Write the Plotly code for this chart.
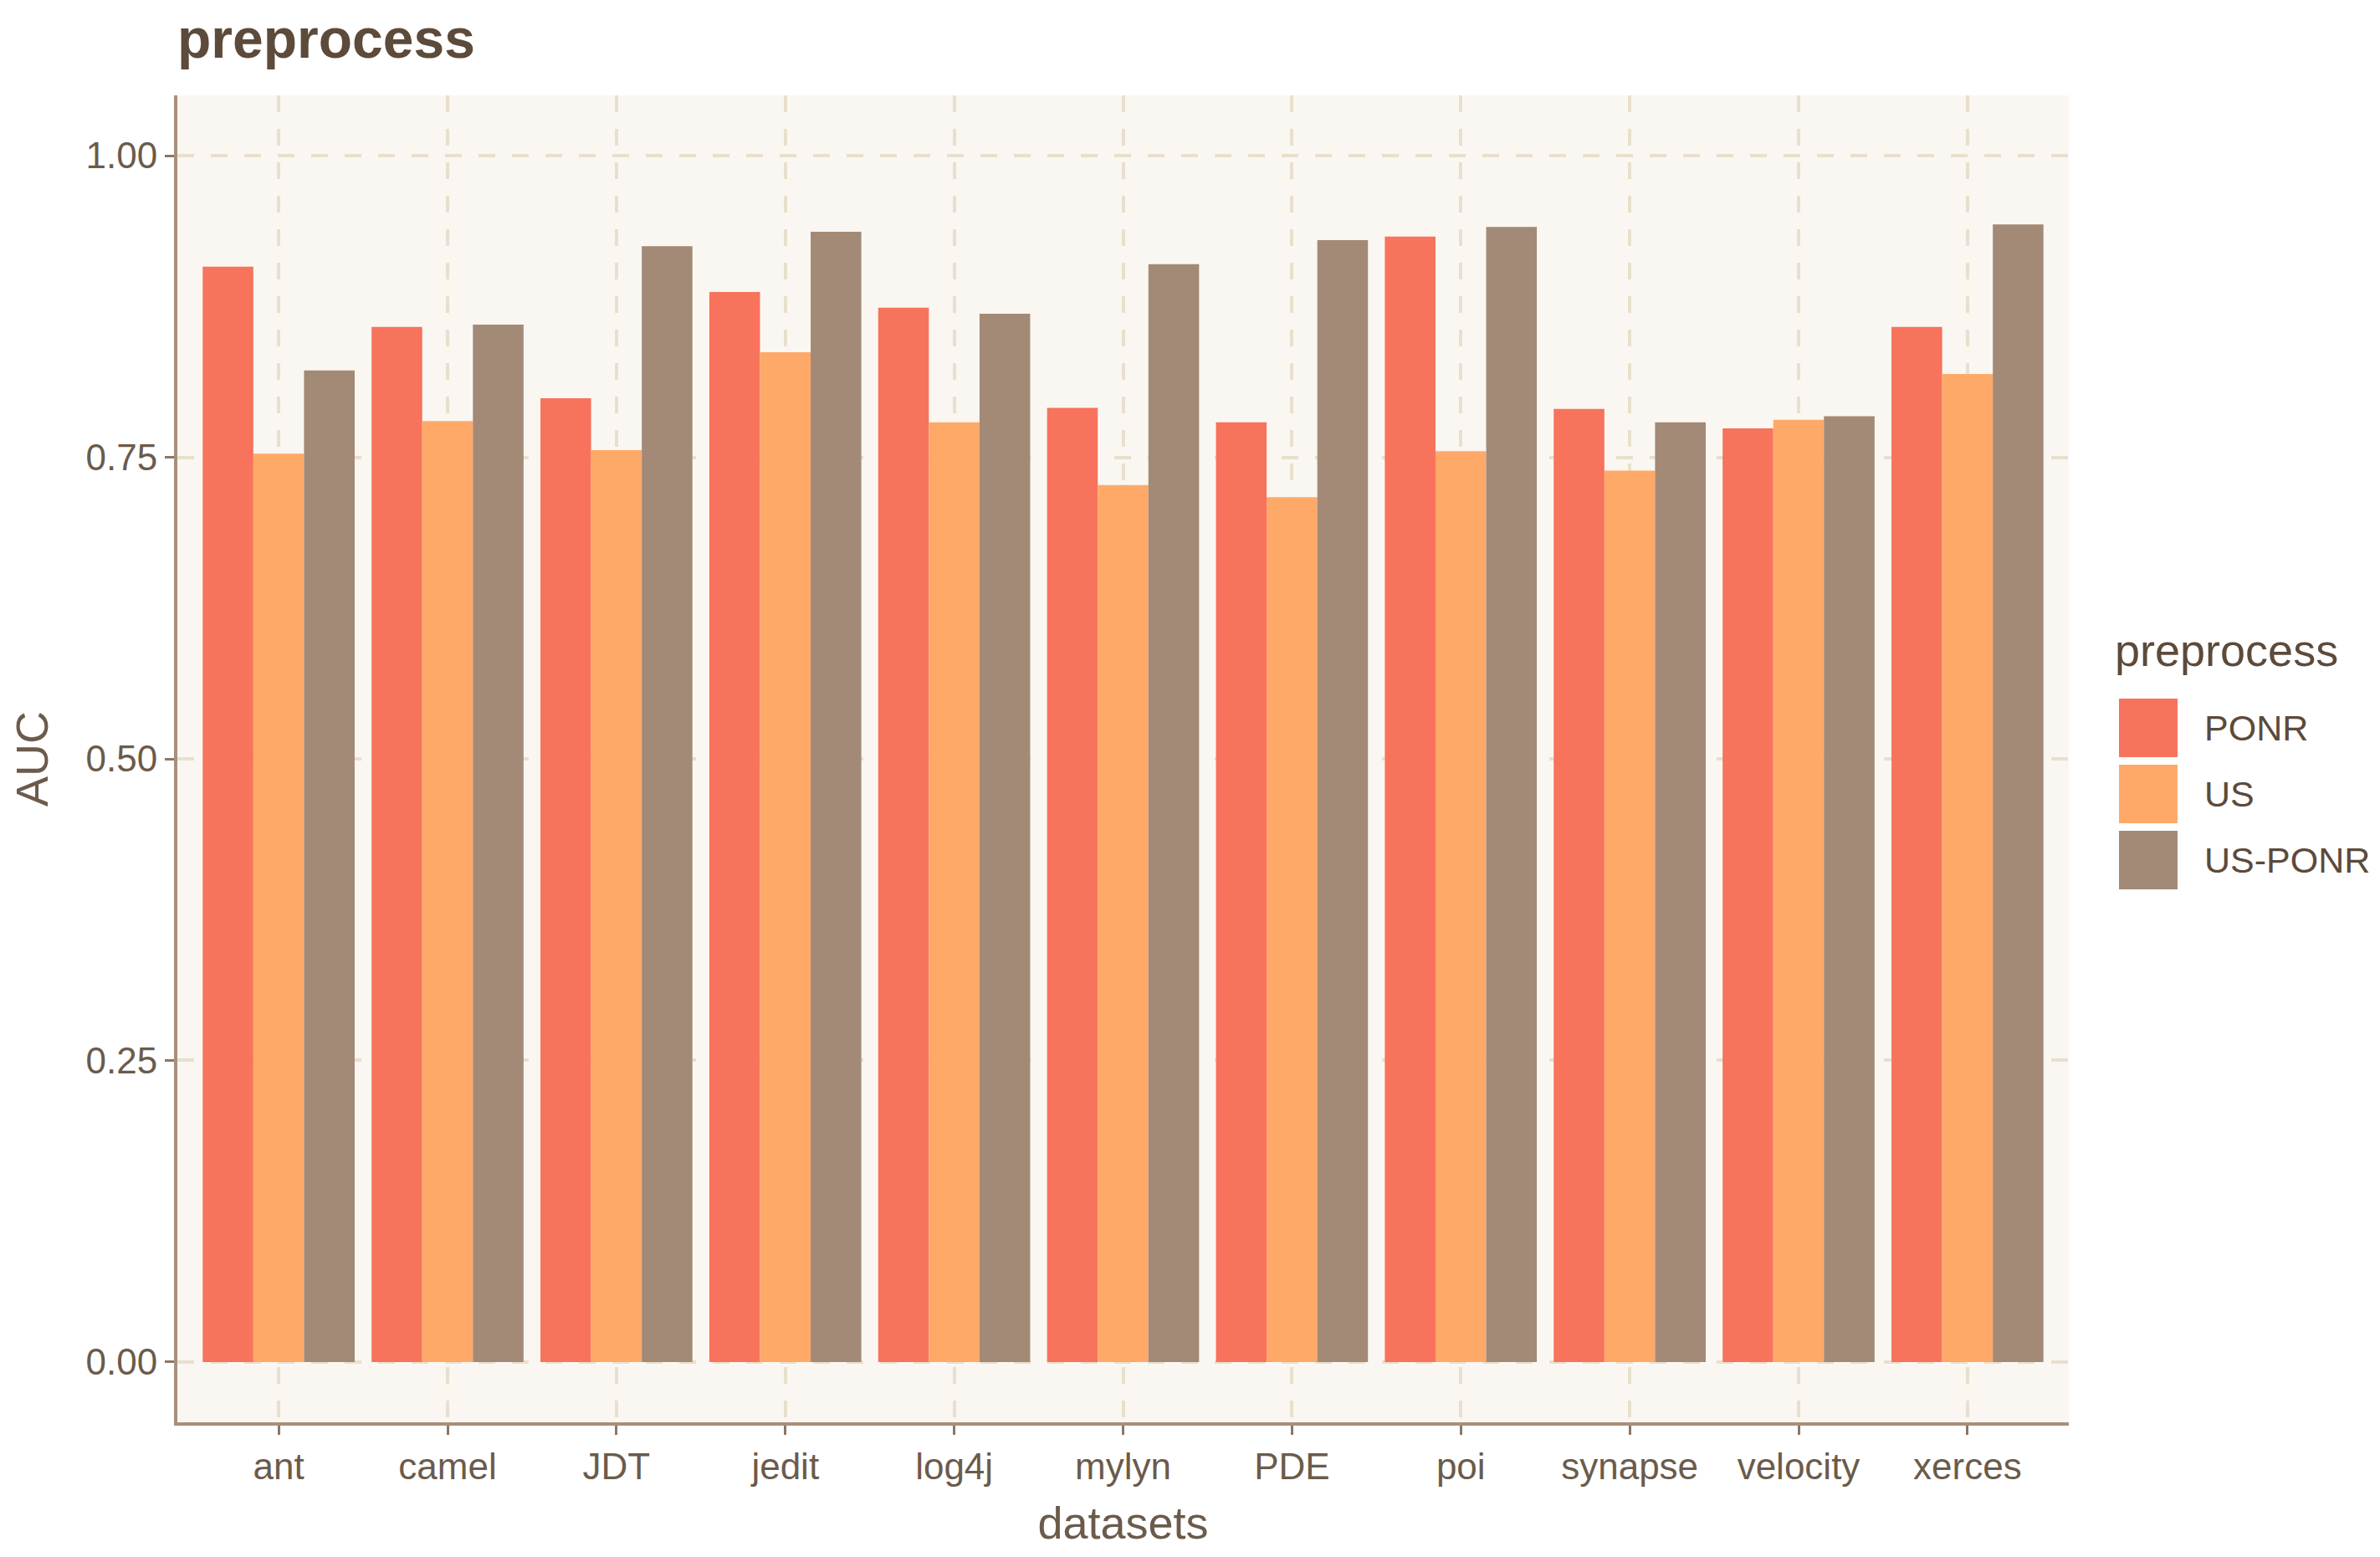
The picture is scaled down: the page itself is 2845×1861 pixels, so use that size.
import plotly.graph_objects as go

datasets = ["ant", "camel", "JDT", "jedit", "log4j", "mylyn", "PDE", "poi", "synapse", "velocity", "xerces"]
series_names = ["PONR", "US", "US-PONR"]
ponr = [0.908, 0.858, 0.799, 0.887, 0.874, 0.791, 0.779, 0.933, 0.790, 0.774, 0.858]
us = [0.753, 0.780, 0.756, 0.837, 0.779, 0.727, 0.717, 0.755, 0.739, 0.781, 0.819]
us_ponr = [0.822, 0.860, 0.925, 0.937, 0.869, 0.910, 0.930, 0.941, 0.779, 0.784, 0.943]
y_ticks = [0.0, 0.25, 0.5, 0.75, 1.0]
y_tick_labels = ["0.00", "0.25", "0.50", "0.75", "1.00"]

colors = ["#F7735C", "#FFA969", "#A38A76"]
values = [ponr, us, us_ponr]

# page body adds an 8px margin; work in page coordinates, subtract offset
OFF = 8
W, H = 2845 - 2 * OFF, 1861 - 2 * OFF
ML = 212 - OFF
MT = 114 - OFF
MR = W - (2473 - OFF)
MB = H - (1700 - OFF)

FONT = "Liberation Sans, Arial, sans-serif"
TXT = "#6B5B4B"
DARK = "#5C4A3B"
AXIS = "#A88F7B"
TICK = "#8E7663"
GRID = "#E8E0CC"

fig = go.Figure()
for name, vals, col in zip(series_names, values, colors):
    fig.add_trace(go.Bar(
        x=datasets, y=vals, name=name,
        marker=dict(color=col, line=dict(width=0)),
        showlegend=False,
    ))

fig.update_layout(
    width=W, height=H,
    margin=dict(l=ML, r=MR, t=MT, b=MB, autoexpand=False),
    paper_bgcolor="white",
    plot_bgcolor="#FAF7F2",
    barmode="group", bargap=0.1, bargroupgap=0,
    font=dict(family=FONT, size=44, color=TXT),
    title=dict(text="<b>preprocess</b>", x=0, xref="paper", xanchor="left",
               y=1 - (46 - OFF) / H, yref="container", yanchor="middle",
               font=dict(family=FONT, size=66, color=DARK)),
    xaxis=dict(
        range=[-0.6, 10.6], type="category",
        showline=True, linecolor=AXIS, linewidth=4,
        ticks="outside", ticklen=11, tickwidth=3, tickcolor=TICK,
        showgrid=True, gridcolor=GRID, gridwidth=4, griddash="20px,20px",
        tickfont=dict(family=FONT, size=44, color=TXT),
        title=dict(text="datasets", standoff=26, font=dict(family=FONT, size=54, color=TXT)),
        zeroline=False,
    ),
    yaxis=dict(
        range=[-0.05, 1.05],
        tickvals=y_ticks, ticktext=y_tick_labels,
        showline=True, linecolor=AXIS, linewidth=4,
        ticks="outside", ticklen=11, tickwidth=3, tickcolor=TICK,
        showgrid=True, gridcolor=GRID, gridwidth=4, griddash="20px,20px",
        tickfont=dict(family=FONT, size=44, color=TXT),
        title=dict(text="AUC", standoff=32, font=dict(family=FONT, size=54, color=TXT)),
        zeroline=False,
    ),
)

# manual legend (large square keys like ggplot)
pw = W - ML - MR
ph = H - MT - MB
key_x0 = 2533 - OFF
key_w = 70
key_tops = [835 - OFF, 914 - OFF, 993 - OFF]
fig.add_annotation(text="preprocess", xref="paper", yref="paper",
                   x=(2526 - OFF - ML) / pw, y=1 - (777 - OFF - MT) / ph,
                   xanchor="left", yanchor="middle", showarrow=False,
                   font=dict(family=FONT, size=54, color=DARK))
for name, col, top in zip(series_names, colors, key_tops):
    fig.add_shape(type="rect", xref="paper", yref="paper",
                  x0=(key_x0 - ML) / pw, x1=(key_x0 + key_w - ML) / pw,
                  y0=1 - (top + key_w - MT) / ph, y1=1 - (top - MT) / ph,
                  fillcolor=col, line=dict(width=0), layer="above")
    fig.add_annotation(text=name, xref="paper", yref="paper",
                       x=(2633 - OFF - ML) / pw, y=1 - (top + key_w / 2 - MT) / ph,
                       xanchor="left", yanchor="middle", showarrow=False,
                       font=dict(family=FONT, size=43, color=DARK))

fig.write_html("out.html")
